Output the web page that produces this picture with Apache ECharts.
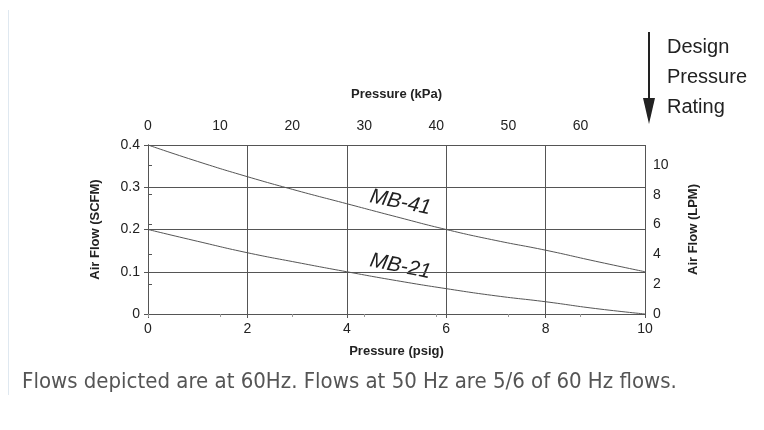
<!DOCTYPE html>
<html>
<head>
<meta charset="utf-8">
<script src="https://cdn.jsdelivr.net/npm/echarts@6/dist/echarts.min.js"></script>
<style>
  html, body { margin: 0; padding: 0; background: #fff; }
  #main { width: 764px; height: 430px; }
</style>
</head>
<body>
<div id="main"></div>
<script>
// pressure in psig
var psig = [0, 1, 2, 3, 4, 5, 6, 7, 8, 9, 10];
// air flow in SCFM
var mb41 = [0.4, 0.361, 0.325, 0.292, 0.261, 0.23, 0.2, 0.174, 0.151, 0.125, 0.1];
var mb21 = [0.2, 0.172, 0.145, 0.122, 0.1, 0.079, 0.06, 0.043, 0.029, 0.013, 0];
var captionText = "Flows depicted are at 60Hz. Flows at 50 Hz are 5/6 of 60 Hz flows.";

var myChart = echarts.init(document.getElementById("main"));
var nameFont = { fontFamily: "Liberation Sans", fontSize: 13, fontWeight: "bold", color: "#222" };

function pairs(ys) {
  return psig.map(function (x, i) { return [x, ys[i]]; });
}

myChart.setOption({
  animation: false,
  grid: { left: 148, right: 119, top: 145, bottom: 116 },
  xAxis: [
    {
      type: "value", min: 0, max: 10, interval: 2,
      name: "Pressure (psig)", nameLocation: "middle", nameGap: 31, nameTextStyle: nameFont,
      axisLine: { lineStyle: { color: "#555" } },
      axisTick: { show: true, length: 4, lineStyle: { color: "#555" } },
      axisLabel: { fontFamily: "Liberation Sans", fontSize: 14, color: "#222" },
      splitLine: { lineStyle: { color: "#555", width: 1 } }
    },
    {
      type: "value", position: "top", min: 0, max: 68.95, interval: 10,
      name: "Pressure (kPa)", nameLocation: "middle", nameGap: 44, nameTextStyle: nameFont,
      axisLine: { lineStyle: { color: "#555" } },
      axisTick: { show: true, inside: true, length: 3, lineStyle: { color: "#999" } },
      axisLabel: { showMaxLabel: false, margin: 12, fontFamily: "Liberation Sans", fontSize: 14, color: "#222" },
      splitLine: { show: false }
    }
  ],
  yAxis: [
    {
      type: "value", min: 0, max: 0.4, interval: 0.1,
      name: "Air Flow (SCFM)", nameLocation: "middle", nameGap: 46, nameTextStyle: nameFont,
      axisLine: { show: true, lineStyle: { color: "#555" } },
      axisTick: { show: true, length: 4, lineStyle: { color: "#555" } },
      axisLabel: {
        fontFamily: "Liberation Sans", fontSize: 14, color: "#222",
        formatter: function (v) { return v === 0 ? "0" : String(+v.toFixed(1)); }
      },
      splitLine: { lineStyle: { color: "#555", width: 1 } }
    },
    {
      type: "value", position: "right", min: 0, max: 11.33, interval: 2,
      name: "Air Flow (LPM)", nameLocation: "middle", nameGap: 42, nameTextStyle: nameFont,
      axisLine: { show: true, lineStyle: { color: "#555" } },
      axisTick: { show: true, length: 4, lineStyle: { color: "#555" } },
      axisLabel: { showMaxLabel: false, fontFamily: "Liberation Sans", fontSize: 14, color: "#222" },
      splitLine: { show: false }
    }
  ],
  series: [
    {
      name: "MB-41", type: "line", smooth: true, symbol: "none",
      lineStyle: { color: "#555", width: 1 }, data: pairs(mb41)
    },
    {
      name: "MB-21", type: "line", smooth: true, symbol: "none",
      lineStyle: { color: "#555", width: 1 }, data: pairs(mb21)
    }
  ],
  graphic: [
    { type: "rect", left: 8, top: 10, shape: { width: 1, height: 385 }, style: { fill: "#dfe8f0" } },
    { type: "text", left: 368, top: 186, rotation: -0.2,
      style: { text: "MB-41", font: "italic 21px 'Liberation Sans'", fill: "#222" } },
    { type: "text", left: 368, top: 250, rotation: -0.2,
      style: { text: "MB-21", font: "italic 21px 'Liberation Sans'", fill: "#222" } },
    { type: "rect", left: 648, top: 32, shape: { width: 2, height: 70 }, style: { fill: "#222" } },
    { type: "polygon", shape: { points: [[643, 98], [655, 98], [649, 124]] }, style: { fill: "#222" } },
    { type: "text", left: 667, top: 32,
      style: { text: "Design\nPressure\nRating", font: "20px 'Liberation Sans'", lineHeight: 30, fill: "#222" } },
    { type: "text", left: 22, top: 371,
      style: { text: captionText, font: "22px 'DejaVu Sans Condensed'", fill: "#555" } }
  ]
});
</script>
</body>
</html>
